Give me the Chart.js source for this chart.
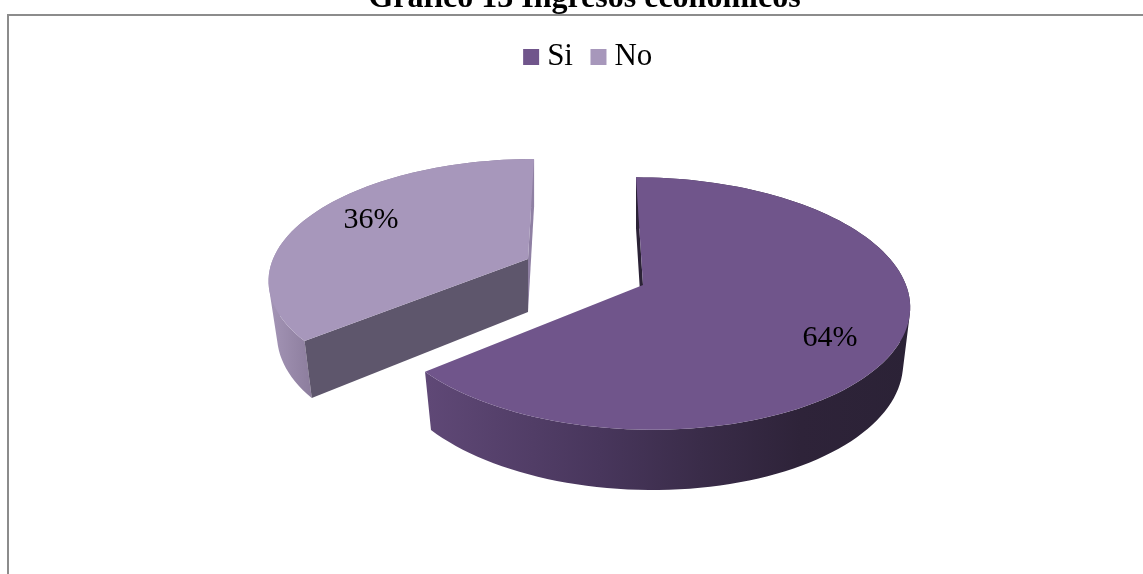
<!DOCTYPE html>
<html>
<head>
<meta charset="utf-8">
<title>Gráfico 13 Ingresos económicos</title>
<script src="https://cdn.jsdelivr.net/npm/chart.js@4/dist/chart.umd.min.js"></script>
<style>
html, body { margin: 0; padding: 0; background: #fff; overflow: hidden; }
canvas { display: block; }
</style>
</head>
<body>
<canvas id="chart" width="1143" height="574"></canvas>
<script>
var TITLE = 'Gráfico 13 Ingresos económicos';
var categories = ['Si', 'No'];
var values = [64, 36];
var colors = ['#70558b', '#a797bb'];

var FONT = '"Liberation Serif", "Times New Roman", serif';

/* how each exploded slice sits on the page: top face and lower face of the tilted disc */
var VIEWS = [
    {
        top: {x: 643, y: 285, b: 263, c: 8, a: 123.5, k: 0.147},
        low: {x: 643, y: 340, b: 256, c: 8, a: 128, k: 0.147},
        rimStops: [[428, '#5f4876'], [600, '#48365c'], [700, '#3a2c49'], [800, '#2e2339'], [910, '#2b2236']],
        fromWall: '#2b2236', toWall: null,
        label: [830, 338]
    },
    {
        top: {x: 528, y: 259, b: 255, c: -7, a: 115.8, k: 0.158},
        low: {x: 528, y: 312, b: 246.6, c: -7, a: 121.5, k: 0.158},
        rimStops: [[269, '#a495b6'], [312, '#8c7d9d']],
        fromWall: '#5e566c', toWall: '#8f80a3',
        label: [371, 220]
    }
];

function project(p, deg) {
    var t = deg * Math.PI / 180;
    var u = Math.sin(t), v = -Math.cos(t);
    var w = 1 - p.k * v;
    return [p.x + (p.b * u + p.c * v) / w, p.y + p.a * v / w];
}

function drawWall(ctx, view, deg, color) {
    var a = project(view.top, deg), b = project(view.low, deg);
    ctx.fillStyle = color;
    ctx.beginPath();
    ctx.moveTo(view.top.x, view.top.y);
    ctx.lineTo(a[0], a[1]);
    ctx.lineTo(b[0], b[1]);
    ctx.lineTo(view.low.x, view.low.y);
    ctx.closePath();
    ctx.fill();
}

function addQuad(ctx, pts) {
    var area = 0;
    for (var i = 0; i < 4; i++) {
        var n = pts[(i + 1) % 4];
        area += pts[i][0] * n[1] - n[0] * pts[i][1];
    }
    /* same winding for every strip, so the single fill has no seams */
    if (area < 0) pts = pts.slice().reverse();
    ctx.moveTo(pts[0][0], pts[0][1]);
    ctx.lineTo(pts[1][0], pts[1][1]);
    ctx.lineTo(pts[2][0], pts[2][1]);
    ctx.lineTo(pts[3][0], pts[3][1]);
    ctx.closePath();
}

function drawSlice(ctx, arc, view, color) {
    var from = (arc.startAngle + Math.PI / 2) * 180 / Math.PI;
    var to = (arc.endAngle + Math.PI / 2) * 180 / Math.PI;
    var steps = Math.ceil((to - from) / 2);
    var i;

    var first = view.rimStops[0][0], last = view.rimStops[view.rimStops.length - 1][0];
    var grad = ctx.createLinearGradient(first, 0, last, 0);
    view.rimStops.forEach(function(s) {
        grad.addColorStop((s[0] - first) / (last - first), s[1]);
    });
    ctx.fillStyle = grad;
    ctx.beginPath();
    for (i = 0; i < steps; i++) {
        var d0 = from + (to - from) * i / steps;
        var d1 = from + (to - from) * (i + 1) / steps;
        addQuad(ctx, [project(view.top, d0), project(view.top, d1), project(view.low, d1), project(view.low, d0)]);
    }
    ctx.fill();

    if (view.toWall) drawWall(ctx, view, to, view.toWall);
    if (view.fromWall) drawWall(ctx, view, from, view.fromWall);

    ctx.fillStyle = color;
    ctx.beginPath();
    ctx.moveTo(view.top.x, view.top.y);
    for (i = 0; i <= steps; i++) {
        var q = project(view.top, from + (to - from) * i / steps);
        ctx.lineTo(q[0], q[1]);
    }
    ctx.closePath();
    ctx.fill();
}

var pie3d = {
    id: 'pie3d',
    afterLayout: function(chart) {
        /* the title sits a little left of the legend in the original */
        chart.titleBlock.left -= 7;
        chart.titleBlock.right -= 7;
    },
    beforeDraw: function(chart) {
        var ctx = chart.ctx;
        ctx.save();
        ctx.fillStyle = '#8c8c8c';
        ctx.fillRect(7, 14, 1136, 2);
        ctx.fillRect(7, 14, 2, 560);
        ctx.restore();
    },
    beforeDatasetsDraw: function(chart) {
        var ctx = chart.ctx;
        var arcs = chart.getDatasetMeta(0).data;
        ctx.save();
        /* back slice first so the front one overlaps it */
        drawSlice(ctx, arcs[1], VIEWS[1], colors[1]);
        drawSlice(ctx, arcs[0], VIEWS[0], colors[0]);
        ctx.restore();
        return false;
    },
    afterDraw: function(chart) {
        var ctx = chart.ctx;
        var total = values.reduce(function(s, v) { return s + v; }, 0);
        ctx.save();
        ctx.font = '30px ' + FONT;
        ctx.fillStyle = '#000';
        ctx.textAlign = 'center';
        ctx.textBaseline = 'middle';
        values.forEach(function(v, i) {
            ctx.fillText(Math.round(v / total * 100) + '%', VIEWS[i].label[0], VIEWS[i].label[1]);
        });
        ctx.restore();
    }
};

new Chart(document.getElementById('chart'), {
    type: 'pie',
    plugins: [pie3d],
    data: {
        labels: categories,
        datasets: [{data: values, backgroundColor: colors, borderWidth: 0}]
    },
    options: {
        responsive: false,
        animation: false,
        layout: {padding: {left: 40}},
        plugins: {
            tooltip: {enabled: false},
            title: {
                display: true,
                text: TITLE,
                color: '#000',
                font: {family: FONT, size: 32, weight: 'bold'},
                padding: {top: -20, bottom: -2}
            },
            legend: {
                display: true,
                position: 'top',
                labels: {
                    color: '#000',
                    font: {family: FONT, size: 31},
                    usePointStyle: true,
                    pointStyle: 'rect',
                    boxWidth: 1,
                    boxHeight: 16,
                    padding: 25
                }
            }
        }
    }
});
</script>
</body>
</html>
